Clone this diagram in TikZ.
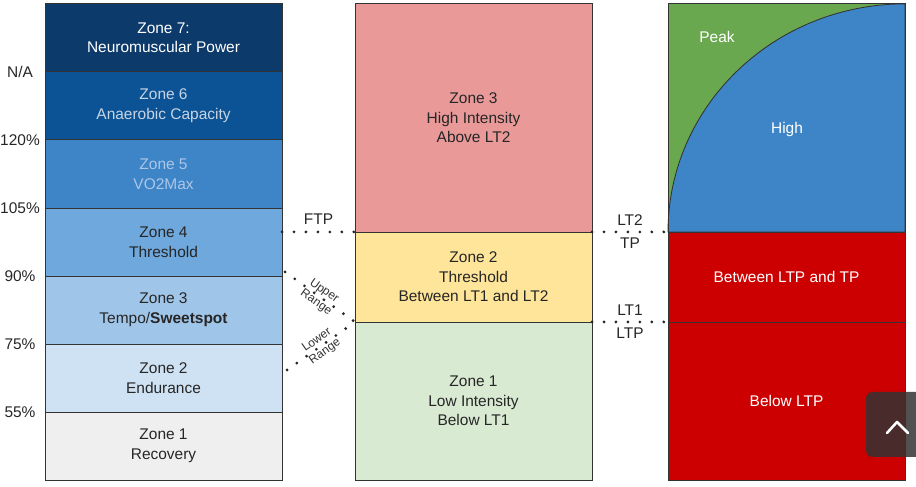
\documentclass[tikz,border=0pt]{standalone}
\usepackage{fontspec}
\setmainfont{Liberation Sans}
\usetikzlibrary{positioning,calc}

\definecolor{zsev}{HTML}{0C3B6B}
\definecolor{zsix}{HTML}{0B5394}
\definecolor{zfive}{HTML}{3D85C6}
\definecolor{zfour}{HTML}{6FA8DC}
\definecolor{zthree}{HTML}{9FC5E8}
\definecolor{ztwo}{HTML}{CFE2F3}
\definecolor{zgrey}{HTML}{EFEFEF}
\definecolor{hiint}{HTML}{EA9999}
\definecolor{thrint}{HTML}{FFE599}
\definecolor{loint}{HTML}{D9EAD3}
\definecolor{peakgreen}{HTML}{6AA84F}
\definecolor{highblue}{HTML}{3D85C6}
\definecolor{ltpred}{HTML}{CC0000}
\definecolor{edge}{HTML}{333333}

\begin{document}
\begin{tikzpicture}[
  x=0.025cm, y=0.025cm,
  font=\fontsize{11}{14}\selectfont,
  zone/.style={rectangle, draw=edge, line width=0.6pt, align=center,
               minimum width=5.925cm, minimum height=1.7cm,
               inner sep=2pt, outer sep=0pt, text=black!85},
  band/.style={zone, minimum height=#1},
  pct/.style={inner sep=0pt, xshift=-0.625cm, text=black!85},
  dotline/.style={line width=2.2pt, dash pattern=on 0pt off 8.5pt,
                  line cap=round, black!85},
  rangelbl/.style={midway, sloped, align=center, inner sep=1pt,
                   font=\fontsize{8.5}{10}\selectfont, text=black!80},
]
  \useasboundingbox (0,0) rectangle (916,487);

  \node[zone, fill=zgrey, anchor=south west] (z1) at (45,7) {Zone 1\\Recovery};
  \node[zone, fill=ztwo, above=0pt of z1] (z2) {Zone 2\\Endurance};
  \node[zone, fill=zthree, above=0pt of z2] (z3) {Zone 3\\Tempo/\textbf{Sweetspot}};
  \node[zone, fill=zfour, above=0pt of z3] (z4) {Zone 4\\Threshold};
  \node[zone, fill=zfive, above=0pt of z4, text={rgb,255:red,172;green,198;blue,232}] (z5)
    {Zone 5\\VO2Max};
  \node[zone, fill=zsix, above=0pt of z5, text={rgb,255:red,200;green,212;blue,228}] (z6)
    {Zone 6\\Anaerobic Capacity};
  \node[zone, fill=zsev, above=0pt of z6, text=white] (z7) {Zone 7:\\Neuromuscular Power};

  \node[pct] (p55) at (z1.north west) {55\%};
  \node[pct] (p75) at (z2.north west) {75\%};
  \node[pct] (p90) at (z3.north west) {90\%};
  \node[pct] (p105) at (z4.north west) {105\%};
  \node[pct] (p120) at (z5.north west) {120\%};
  \node[pct] (pna) at (z6.north west) {N/A};

  \node[band=3.95cm, fill=loint, anchor=south west] (m1) at (355,7)
    {Zone 1\\Low Intensity\\Below LT1};
  \node[band=2.25cm, fill=thrint, above=0pt of m1] (m2)
    {Zone 2\\Threshold\\Between LT1 and LT2};
  \node[band=5.7cm, fill=hiint, above=0pt of m2] (m3)
    {Zone 3\\High Intensity\\Above LT2};

  \node[band=3.95cm, fill=ltpred, text=white, anchor=south west] (r1) at (668,7)
    {Below LTP};
  \node[band=2.25cm, fill=ltpred, text=white, above=0pt of r1] (r2)
    {Between LTP and TP};
  \node[band=5.7cm, fill=peakgreen, above=0pt of r2] (r3) {};
  \path[fill=highblue, draw=edge, line width=0.6pt] (r3.south west)
    arc[start angle=180, end angle=90, x radius=5.925cm, y radius=5.7cm]
    -- (r3.south east) -- cycle;
  \draw[edge, line width=0.6pt] (r3.south west) rectangle (r3.north east);
  \node[text=white] (peak) at (717,450) {Peak};
  \node[text=white] (high) at (787,357) {High};

  \draw[dotline] (z4.east |- m2.north) -- (m2.north west)
    node[midway, above=1pt, text=black!85] {FTP};
  \draw[dotline] ($(z3.north east)+(3,4)$) -- (m1.north west)
    node[rangelbl] {Upper\\Range};
  \draw[dotline] ($(z2.east)+(5,8)$) -- (m1.north west)
    node[rangelbl] {Lower\\Range};
  \draw[dotline] (m2.north east) -- (r2.north west)
    node[midway, above=0pt, text=black!85] {LT2}
    node[midway, below=0pt, text=black!85] {TP};
  \draw[dotline] (m1.north east) -- (r1.north west)
    node[midway, above=0pt, text=black!85] {LT1}
    node[midway, below=0pt, text=black!85] {LTP};

  \begin{scope}
    \clip (0,0) rectangle (916,487);
    \fill[black!80, opacity=0.85, rounded corners=4pt] (866,30) rectangle (930,95);
    \draw[white, line width=1.8pt, line cap=round, line join=round]
      (887,54) -- (897,65) -- (908,54);
  \end{scope}
\end{tikzpicture}
\end{document}
